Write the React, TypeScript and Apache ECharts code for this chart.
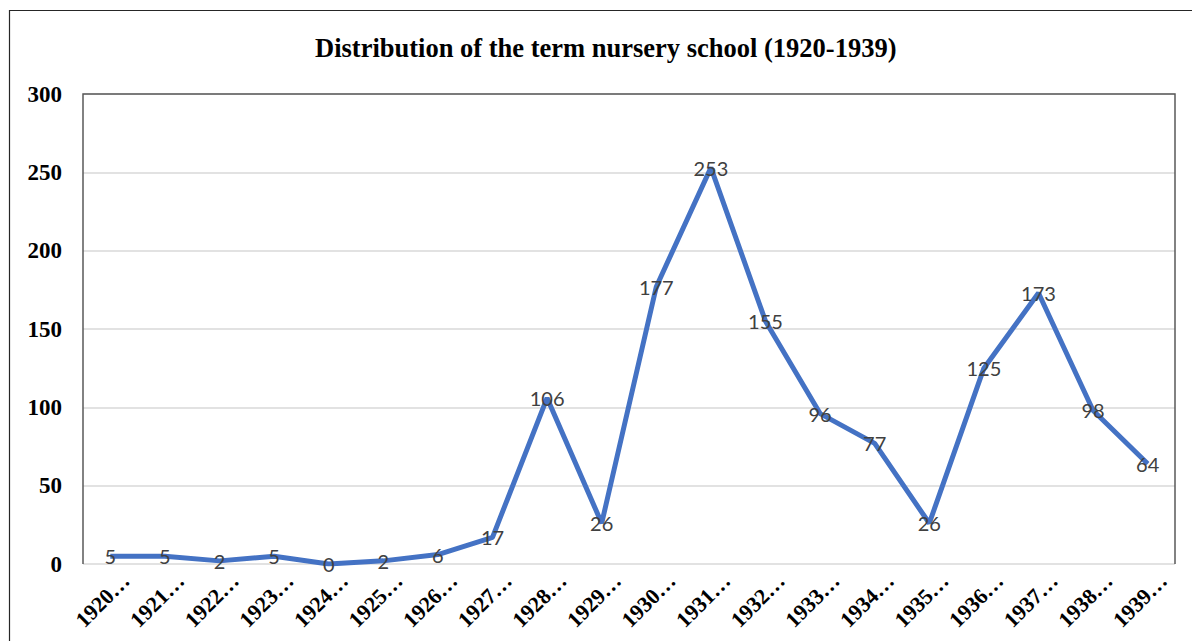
import React, { useEffect, useRef } from "react";
import * as echarts from "echarts";

const years = ["1920", "1921", "1922", "1923", "1924", "1925", "1926", "1927", "1928", "1929", "1930", "1931", "1932", "1933", "1934", "1935", "1936", "1937", "1938", "1939"];
const counts = [5, 5, 2, 5, 0, 2, 6, 17, 106, 26, 177, 253, 155, 96, 77, 26, 125, 173, 98, 64];
const titleText = "Distribution of the term nursery school (1920-1939)";

const W = 1192;
const H = 641;
const G = { left: 83, right: 17, top: 94, bottom: 77 };

export default function App() {
  const ref = useRef<HTMLDivElement>(null);
  useEffect(() => {
    if (!ref.current) return;
    const chart = echarts.init(ref.current, null, { renderer: "svg" });
    const gx0 = G.left, gx1 = W - G.right, gy0 = G.top, gy1 = H - G.bottom;
    chart.setOption({
      animation: false,
      backgroundColor: "#ffffff",
      title: {
        text: titleText,
        left: 310,
        top: 29,
        textStyle: { fontFamily: "Liberation Serif", fontWeight: "bold", fontSize: 26.5, color: "#000" },
      },
      grid: { left: G.left, right: G.right, top: G.top, bottom: G.bottom, containLabel: false },
      xAxis: {
        type: "category",
        data: years,
        boundaryGap: true,
        axisLine: { show: false },
        axisTick: { show: false },
        axisLabel: {
          rotate: 45,
          interval: 0,
          margin: 44,
          align: "center",
          verticalAlign: "bottom",
          formatter: (v: string) => v + "…",
          fontFamily: "Liberation Serif",
          fontWeight: "bold",
          fontSize: 22,
          color: "#000",
        },
      },
      yAxis: {
        type: "value",
        min: 0,
        max: 300,
        interval: 50,
        axisLine: { show: false },
        axisTick: { show: false },
        splitLine: { lineStyle: { color: "#d9d9d9", width: 1.5 } },
        axisLabel: {
          margin: 21,
          fontFamily: "Liberation Serif",
          fontWeight: "bold",
          fontSize: 23,
          color: "#000",
        },
      },
      graphic: [
        {
          type: "rect",
          shape: { x: 9.5, y: 10.5, width: 1300, height: 800 },
          style: { fill: "none", stroke: "#262626", lineWidth: 1.2 },
          silent: true,
        },
        {
          type: "polyline",
          shape: { points: [[gx0, gy1], [gx0, gy0], [gx1, gy0], [gx1, gy1]] },
          style: { fill: "none", stroke: "#595959", lineWidth: 1.5 },
          silent: true,
          z: 10,
        },
      ],
      series: [
        {
          type: "line",
          data: counts,
          symbol: "circle",
          symbolSize: 1,
          showSymbol: true,
          itemStyle: { color: "#4472C4" },
          lineStyle: { color: "#4472C4", width: 5 },
          label: {
            show: true,
            position: "inside",
            fontFamily: "Lato",
            fontSize: 20,
            color: "#404040",
          },
          z: 5,
        },
      ],
    });
    return () => chart.dispose();
  }, []);
  return <div ref={ref} style={{ position: "absolute", left: 0, top: 0, width: W, height: H }} />;
}
